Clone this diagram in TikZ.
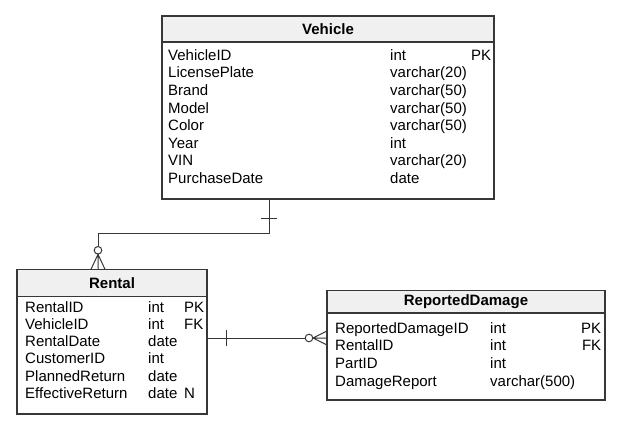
\documentclass[tikz,border=0pt]{standalone}
\usepackage{fontspec}
\setmainfont{Liberation Sans}
\usepackage{array}
\usetikzlibrary{positioning}
\definecolor{erline}{RGB}{55,55,55}
\definecolor{erhead}{RGB}{240,240,240}
\tikzset{
    %Define style for table headers
    tablehead/.style={
             rectangle,
             draw=erline, fill=erhead, line width=1.2pt,
             inner sep=0pt, outer sep=0pt,
             font=\fontsize{15}{17.6}\selectfont\bfseries},
    %Define style for table bodies
    tablebody/.style={
             rectangle,
             draw=erline, fill=white, line width=1.2pt,
             inner sep=0pt, outer sep=0pt},
    %Define style for the column texts
    tablecols/.style={
             anchor=north west,
             inner sep=0pt,
             font=\fontsize{15}{17.6}\selectfont},
    % Define connector style
    relline/.style={
            draw=erline,
            line width=1pt}
}

\begin{document}
\begin{tikzpicture}[x=1pt, y=-1pt]
 \useasboundingbox (0,0) rectangle (634,433);
 % Vehicle
 \node[tablehead, anchor=north west, minimum width=332pt, minimum height=26pt] (vhead) at (162,16) {Vehicle};
 \node[tablebody, below=0pt of vhead, minimum width=332pt, minimum height=157pt] (vbody) {};
 \node[tablecols] (vcols) at ([shift={(6pt,-5.7pt)}]vbody.north west) {%
  \begin{tabular}{@{}p{222pt}@{}p{78pt}@{}>{\raggedleft\arraybackslash}p{23pt}@{}}
   VehicleID & int & PK\\
   LicensePlate & varchar(20) & \\
   Brand & varchar(50) & \\
   Model & varchar(50) & \\
   Color & varchar(50) & \\
   Year & int & \\
   VIN & varchar(20) & \\
   PurchaseDate & date &
  \end{tabular}};
 % Rental
 \node[tablehead, anchor=north west, minimum width=190pt, minimum height=27.4pt] (rhead) at (17,269.3) {Rental};
 \node[tablebody, below=0pt of rhead, minimum width=190pt, minimum height=117.3pt] (rbody) {};
 \node[tablecols, font=\fontsize{15}{17.2}\selectfont] (rcols) at ([shift={(8pt,-3.3pt)}]rbody.north west) {%
  \begin{tabular}{@{}p{123pt}@{}p{36pt}@{}l@{}}
   RentalID & int & PK\\
   VehicleID & int & FK\\
   RentalDate & date & \\
   CustomerID & int & \\
   PlannedReturn & date & \\
   EffectiveReturn & date & N
  \end{tabular}};
 % ReportedDamage
 \node[tablehead, anchor=north west, minimum width=278pt, minimum height=22.3pt] (dhead) at (327,290.7) {ReportedDamage};
 \node[tablebody, below=0pt of dhead, minimum width=278pt, minimum height=87pt] (dbody) {};
 \node[tablecols] (dcols) at ([shift={(8pt,-7.7pt)}]dbody.north west) {%
  \begin{tabular}{@{}p{155pt}@{}p{88pt}@{}>{\raggedleft\arraybackslash}p{23pt}@{}}
   ReportedDamageID & int & PK\\
   RentalID & int & FK\\
   PartID & int & \\
   DamageReport & varchar(500) &
  \end{tabular}};
 % Vehicle -- Rental
 \coordinate (vfoot) at ([xshift=107pt]vbody.south west);
 \coordinate (rtop) at ([xshift=81pt]rhead.north west);
 \draw[relline] (vfoot) -- ++(0,34) -| ([yshift=23pt]rtop);
 \draw[relline] ([shift={(-8pt,-19pt)}]vfoot) -- ([shift={(8pt,-19pt)}]vfoot);
 \draw[relline, fill=white] ([yshift=19pt]rtop) circle (3.8pt);
 \draw[relline] ([xshift=-7pt]rtop) -- ([yshift=15pt]rtop) -- ([xshift=7pt]rtop)
                ([yshift=15pt]rtop) -- (rtop);
 % Rental -- ReportedDamage
 \coordinate (rright) at ([yshift=-41.3pt]rbody.north east);
 \coordinate (dleft) at (rright -| dbody.west);
 \draw[relline] (rright) -- ([xshift=-22pt]dleft);
 \draw[relline] ([shift={(19pt,-8pt)}]rright) -- ([shift={(19pt,8pt)}]rright);
 \draw[relline, fill=white] ([xshift=-18pt]dleft) circle (3.8pt);
 \draw[relline] ([yshift=7pt]dleft) -- ([xshift=-14pt]dleft) -- ([yshift=-7pt]dleft)
                ([xshift=-14pt]dleft) -- (dleft);
\end{tikzpicture}
\end{document}
